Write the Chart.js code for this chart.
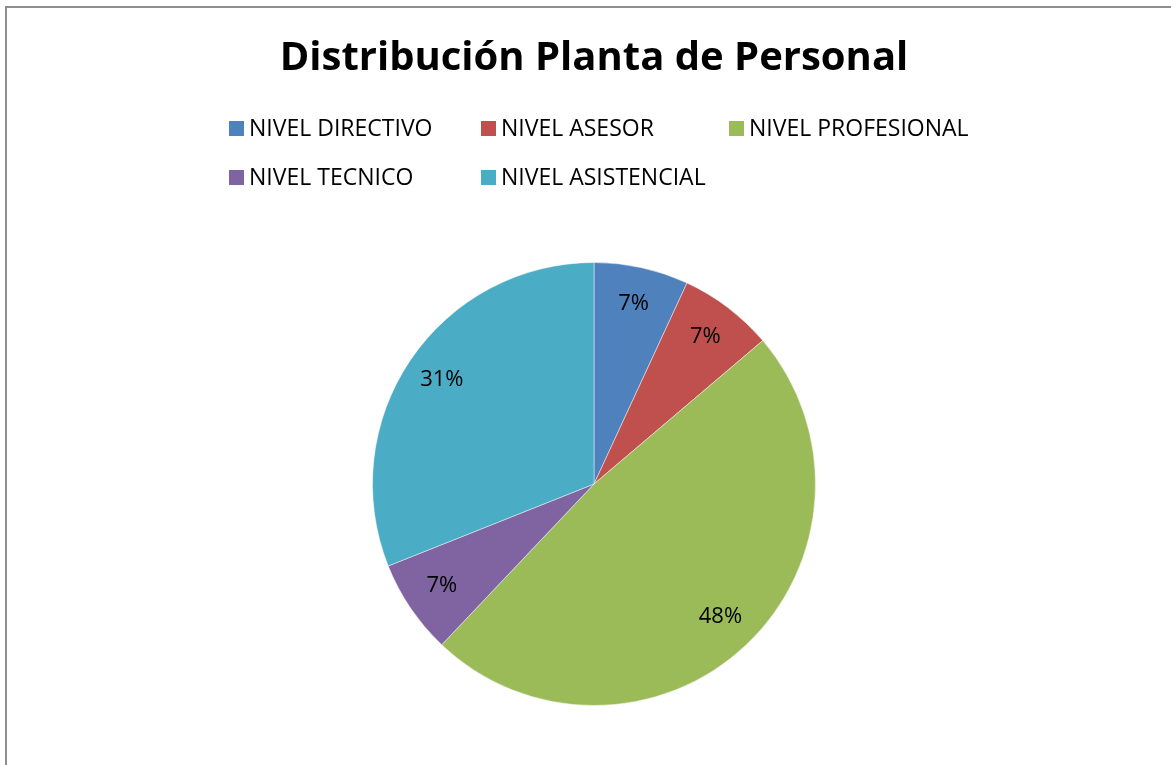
<!DOCTYPE html>
<html>
<head>
<meta charset="utf-8">
<script src="https://cdn.jsdelivr.net/npm/chart.js@4"></script>
<style>
  html, body { margin: 0; padding: 0; background: #fff; }
  #wrap { width: 1171px; height: 765px; position: relative; }
</style>
</head>
<body>
<div id="wrap"><canvas id="torta" width="1171" height="765"></canvas></div>
<script>
// datos del grafico
var titulo = 'Distribución Planta de Personal';
var niveles = ['NIVEL DIRECTIVO', 'NIVEL ASESOR', 'NIVEL PROFESIONAL', 'NIVEL TECNICO', 'NIVEL ASISTENCIAL'];
var cantidades = [2, 2, 14, 2, 9];
var colores = ['#4F81BD', '#C0504D', '#9BBB59', '#8064A2', '#4BACC6'];

var fuente = "'Open Sans', 'DejaVu Sans', sans-serif";

// marco gris como en la hoja de calculo
var marco = {
    id: 'marco',
    beforeDraw: function(chart){
        var ctx = chart.ctx;
        ctx.save();
        ctx.strokeStyle = '#8e8e8e';
        ctx.lineWidth = 2;
        ctx.strokeRect(6, 7, chart.width + 20, chart.height + 20);
        ctx.restore();
    }
};

// leyenda en rejilla: 3 columnas
var leyenda = {
    id: 'leyenda',
    afterDraw: function(chart){
        var ctx = chart.ctx;
        var colX = [229, 481, 729], filaY = [128, 177];
        ctx.save();
        ctx.font = '23px ' + fuente;
        ctx.textBaseline = 'middle';
        ctx.textAlign = 'left';
        niveles.forEach(function(nombre, i){
            var x = colX[i % 3], y = filaY[Math.floor(i / 3)];
            ctx.fillStyle = colores[i];
            ctx.fillRect(x, y - 7, 15, 15);
            ctx.fillStyle = '#000';
            ctx.fillText(nombre, x + 20, y + 1);
        });
        ctx.restore();
    }
};

// porcentajes dentro de cada porcion
var etiquetas = {
    id: 'etiquetas',
    afterDatasetsDraw: function(chart){
        var ctx = chart.ctx;
        var total = cantidades.reduce(function(a, b){ return a + b; }, 0);
        var meta = chart.getDatasetMeta(0);
        ctx.save();
        ctx.font = '22px ' + fuente;
        ctx.fillStyle = '#000';
        ctx.textAlign = 'center';
        ctx.textBaseline = 'middle';
        meta.data.forEach(function(arco, i){
            var p = arco.getProps(['x', 'y', 'startAngle', 'endAngle', 'outerRadius'], true);
            var medio = (p.startAngle + p.endAngle) / 2;
            var r = p.outerRadius * 0.83;
            var txt = Math.round(cantidades[i] / total * 100) + '%';
            ctx.fillText(txt, p.x + Math.cos(medio) * r, p.y + Math.sin(medio) * r - 1);
        });
        ctx.restore();
    }
};

new Chart(document.getElementById('torta').getContext('2d'), {
    type: 'pie',
    data: {
        labels: niveles,
        datasets: [{
            data: cantidades,
            backgroundColor: colores,
            borderColor: 'rgba(255,255,255,0.45)',
            borderWidth: 1
        }]
    },
    options: {
        responsive: false,
        animation: false,
        layout: { padding: { top: 6, left: 17, right: 0, bottom: 59 } },
        plugins: {
            legend: { display: false },
            tooltip: { enabled: false },
            title: {
                display: true,
                text: titulo,
                color: '#000',
                font: { family: fuente, size: 40, weight: 'bold', lineHeight: 1.2 },
                padding: { top: 29, bottom: 179 }
            }
        }
    },
    plugins: [marco, leyenda, etiquetas]
});
</script>
</body>
</html>
